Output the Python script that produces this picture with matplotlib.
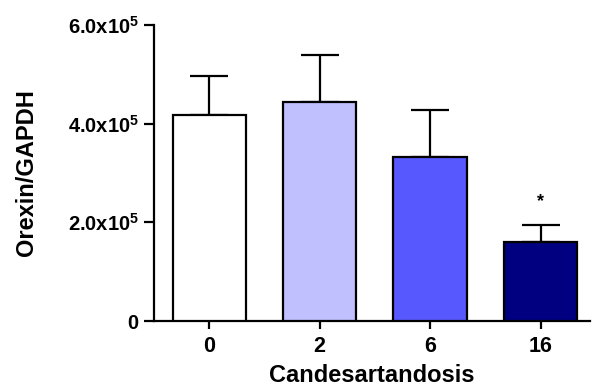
import matplotlib
matplotlib.use("Agg")
import matplotlib.pyplot as plt
import numpy as np

plt.rcParams['font.family'] = ['Liberation Sans', 'DejaVu Sans']
plt.rcParams['font.weight'] = 'bold'
plt.rcParams['mathtext.fontset'] = 'custom'
plt.rcParams['mathtext.rm'] = 'Liberation Sans:bold'
plt.rcParams['mathtext.bf'] = 'Liberation Sans:bold'

doses = ["0", "2", "6", "16"]
means = [4.18e5, 4.43e5, 3.33e5, 1.60e5]
sem = [0.79e5, 0.96e5, 0.95e5, 0.35e5]
colors = ["#ffffff", "#c0c0ff", "#5858ff", "#000080"]
yticks = [0, 2e5, 4e5, 6e5]
ytick_labels = ["0", "2.0x10$^5$", "4.0x10$^5$", "6.0x10$^5$"]
signif = ["", "", "", "*"]

fig = plt.figure(figsize=(5.95, 3.87), dpi=100)
ax = fig.add_axes([0.259, 0.1705, 0.733, 0.765])

x = np.arange(len(doses))
ax.bar(x, means, width=0.665, color=colors, edgecolor="black", linewidth=1.6, zorder=3)
ax.errorbar(x, means, yerr=[np.zeros(len(sem)), sem], fmt="none", ecolor="black",
            elinewidth=1.6, capsize=14, capthick=1.6, zorder=2)

for xi, m, s, mark in zip(x, means, sem, signif):
    if mark:
        ax.text(xi, m + s + 0.3e5, mark, ha="center", va="bottom", fontsize=13)

ax.set_xlim(-0.5, 3.45)
ax.set_ylim(0, 6e5)
ax.set_xticks(x)
ax.set_xticklabels(doses, fontsize=15.5, fontweight="bold")
ax.set_yticks(yticks)
ax.set_yticklabels(ytick_labels, fontsize=14.5, fontweight="bold")
ax.set_xlabel("Candesartandosis", fontsize=17, fontweight="bold", labelpad=5)
ax.set_ylabel("Orexin/GAPDH", fontsize=17, fontweight="bold", labelpad=21)

for side in ["top", "right"]:
    ax.spines[side].set_visible(False)
for side in ["left", "bottom"]:
    ax.spines[side].set_linewidth(1.6)
ax.tick_params(axis="x", direction="out", length=6, width=1.6, pad=5)
ax.tick_params(axis="y", direction="out", length=7, width=1.6, pad=4)

fig.savefig("out.png", dpi=100)
